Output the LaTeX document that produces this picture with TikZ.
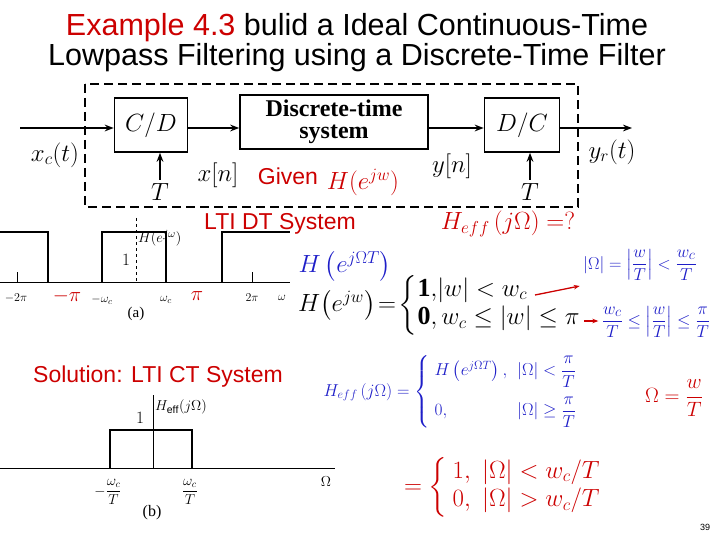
\documentclass[tikz,border=0pt]{standalone}
\usepackage{amsmath}
\usepackage{fontspec}
\setmainfont{Liberation Sans}
\newfontfamily\tms{Liberation Serif}
\usetikzlibrary{arrows.meta}
\definecolor{rd}{RGB}{204,0,0}
\definecolor{bl}{RGB}{30,30,200}
\newcommand{\fsz}[1]{\fontsize{#1}{#1}\selectfont}
\newcommand{\bnum}[1]{\text{\tms\bfseries #1}}
\begin{document}
\begin{tikzpicture}[x=1pt,y=-1pt,
 blk/.style={draw,line width=1.6pt,minimum height=54pt,font=\tms\fsz{24}},
 sig/.style={line width=1.6pt,-{Stealth[length=9pt]}},
 ttl/.style={font=\fsz{30.5}},
 lab/.style={font=\fsz{23}},
 tk/.style={font=\fsz{13}}]
\useasboundingbox (0,0) rectangle (720,540);
\node[ttl] (t1) at (357,28) {\textcolor{rd}{Example 4.3} bulid a Ideal Continuous-Time};
\node[ttl] (t2) at (357,58) {Lowpass Filtering using a Discrete-Time Filter};
% block diagram
\draw[line width=1.3pt,dash pattern=on 9pt off 5pt] (85,84) rectangle (578,207);
\node[blk,minimum width=73pt] (cd) at (151,125) {$C/D$};
\node[blk,minimum width=188pt,align=center,font=\tms\bfseries\fsz{24},inner sep=1pt] (dt) at (334,122) {Discrete-time\\[-2pt]system};
\node[blk,minimum width=75pt] (dc) at (522,125) {$D/C$};
\coordinate (in) at (20,128); \coordinate (out) at (632,128);
\draw[sig] (in) -- (cd.west|-in);
\draw[sig] (cd.east|-in) -- (dt.west|-in);
\draw[sig] (dt.east|-in) -- (dc.west|-in);
\draw[sig] (dc.east|-in) -- (out);
\node[font=\fsz{24}] (T1) at (160,192) {$T$};
\node[font=\fsz{24}] (T2) at (530,192) {$T$};
\draw[sig] (T1) -- (T1|-cd.south);
\draw[sig] (T2) -- (T2|-dc.south);
\node[font=\fsz{24}] (xc) at (55,155) {$x_c(t)$};
\node[font=\fsz{24}] (xn) at (218,175) {$x[n]$};
\node[font=\fsz{24}] (yn) at (452,166) {$y[n]$};
\node[font=\fsz{24}] (yr) at (612,152) {$y_r(t)$};
\node[lab,text=rd] (gv) at (288,176) {Given};
\node[font=\fsz{24},text=rd] (hg) at (363,182) {$H(e^{jw})$};
\node[lab,text=rd] (lti) at (280,224) {LTI DT System};
\node[font=\fsz{26},text=rd] (heq) at (508,224) {$H_{eff}\,(j\Omega)=?$};
% plot a
\draw[line width=0.5pt] (0,282) -- (290,282);
\draw[line width=1.8pt] (0,232) -- (48,232) -- (48,282) (102,282) -- (102,232) -- (166,232) -- (166,282) (222,282) -- (222,232) -- (290,232);
\draw[dashed,line width=0.4pt] (136,218) -- (136,282);
\draw (17,272) -- (17,282) (252,272) -- (252,282);
\node[font=\fsz{16}] (one) at (126,260) {$1$};
\node[font=\fsz{15},anchor=west,inner sep=1pt] (ha) at (137,238) {$H(e^{j\omega})$};
\node[tk] (m2p) at (16,298) {$-2\pi$};
\node[text=rd,font=\fsz{22}] (mp) at (67,296) {$-\pi$};
\node[tk] (mwc) at (102,300) {$-\omega_c$};
\node[tk] (wc) at (166,300) {$\omega_c$};
\node[text=rd,font=\fsz{22}] (pp) at (197,296) {$\pi$};
\node[tk] (p2) at (252,298) {$2\pi$};
\node[tk] (w) at (282,298) {$\omega$};
\node[font=\tms\fsz{15}] (a) at (136,314) {(a)};
% equations
\node[text=bl,font=\fsz{24}] (hb) at (345,266) {$H\left(e^{j\Omega T}\right)$};
\node[font=\fsz{26},anchor=west,inner sep=0pt] (eq1) at (298,305) {$H\!\left(e^{jw}\right)\!=\!\left\{\begin{array}{@{}l@{}}\bnum{1},\!|w|<w_c\\[2pt] \bnum{0},w_c\le|w|\le\pi\end{array}\right.$};
\node[text=bl,font=\fsz{19}] (r1) at (640,265) {$|\Omega|=\left|\dfrac{w}{T}\right|<\dfrac{w_c}{T}$};
\node[text=bl,font=\fsz{19}] (r2) at (656,322) {$\dfrac{w_c}{T}\le\left|\dfrac{w}{T}\right|\le\dfrac{\pi}{T}$};
\draw[rd,line width=1.3pt,-{Stealth[length=6pt]}] (535,295) -- (r1.west|-0,286);
\draw[rd,line width=1.3pt,-{Stealth[length=6pt]}] (eq1.east|-0,321) ++(3,0) -- (r2.west|-0,321);
\node[lab,text=rd] (sol) at (158,377) {Solution: LTI CT System};
\node[text=bl,anchor=west,font=\fsz{18}] (heff) at (320,392) {$H_{eff}\,(j\Omega)=\left\{\begin{array}{ll}H\left(e^{j\Omega T}\right), & |\Omega|<\dfrac{\pi}{T}\\[16pt] 0, & |\Omega|\ge\dfrac{\pi}{T}\end{array}\right.$};
\node[text=rd,font=\fsz{22}] (om) at (674,398) {$\Omega=\dfrac{w}{T}$};
% plot b
\draw[line width=0.6pt] (0,468) -- (335,468);
\draw[line width=1.8pt] (110,468) -- (110,430) -- (192,430) -- (192,468);
\draw[line width=0.4pt] (153,468) -- (153,395);
\node[font=\fsz{16}] (oneb) at (140,418) {$1$};
\node[font=\fsz{15},anchor=west,inner sep=1pt] (hb2) at (154,407) {$H_{\mathrm{eff}}(j\Omega)$};
\node[font=\fsz{14}] (mwt) at (108,492) {$-\dfrac{\omega_c}{T}$};
\node[font=\fsz{14}] (wt) at (190,492) {$\dfrac{\omega_c}{T}$};
\node[font=\fsz{15}] (Om) at (326,482) {$\Omega$};
\node[font=\tms\fsz{16}] (b) at (152,513) {(b)};
\node[text=rd,font=\fsz{26}] (fin) at (505,487) {$=\left\{\begin{array}{l}1,\ |\Omega|<w_c/T\\[2pt] 0,\ |\Omega|>w_c/T\end{array}\right.$};
\node[font=\small] (pg) at (705,527) {39};
\end{tikzpicture}
\end{document}
